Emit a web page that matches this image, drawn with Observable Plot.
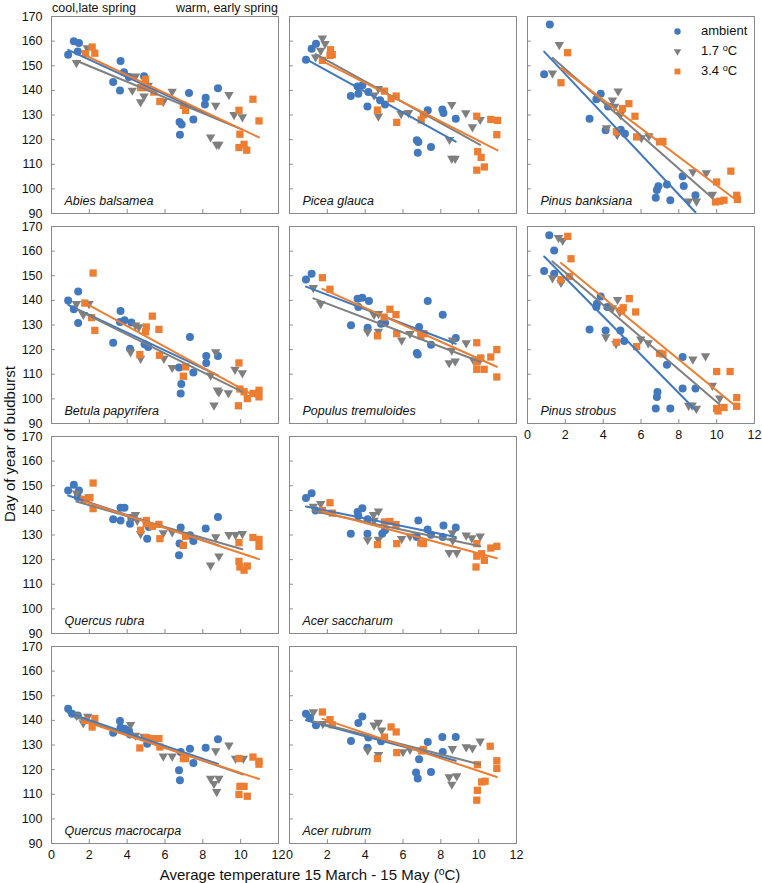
<!DOCTYPE html>
<html><head><meta charset="utf-8">
<script src="https://cdn.jsdelivr.net/npm/d3@7"></script>
<script src="https://cdn.jsdelivr.net/npm/@observablehq/plot@0.6"></script>
<style>
body{margin:0;background:#fff;font-family:"Liberation Sans",Arial,sans-serif;}
#fig{position:relative;width:762px;height:883px;overflow:hidden;}
.panel{position:absolute;}
.lbl{position:absolute;color:#111;white-space:nowrap;line-height:1;}
sup{font-size:0.7em;vertical-align:0.45em;line-height:0;}
</style></head><body><div id="fig"></div>
<script>
// ---- data ----
const treatments = ["ambient", "1.7 °C", "3.4 °C"];
const colors = ["#4178be", "#7f7f7f", "#ed7d31"];
const xTicks = [0, 2, 4, 6, 8, 10, 12];
const yTicks = [90, 100, 110, 120, 130, 140, 150, 160, 170];

const abiesAmb = [[0.88,154.5],[1.18,159.9],[1.45,159.2],[1.39,155.8],[3.65,151.9],[3.83,147.4],[3.26,143.4],[3.62,140],[4.09,145.4],[4.89,145.7],[5.06,141.6],[7.27,138.9],[6.77,127.2],[6.88,126.1],[6.79,122],[7.5,128.2],[8.15,137],[8.11,134.3],[8.8,140.9]];
const abiesT17 = [[1.32,151.2],[1.89,157.2],[4.27,140],[4.44,145.7],[4.71,135.3],[4.89,137.6],[5.11,142],[5.91,135.5],[6.38,139.6],[8.68,133.9],[8.41,121],[8.73,118],[8.85,118],[9.38,138.2],[9.65,130.1],[10.09,129.2]];
const abiesT34 = [[1.8,154.9],[2.15,157.6],[2.29,155.1],[4.97,144.5],[4.71,141.1],[5.03,141.1],[5.41,139.3],[5.73,135.5],[6.97,133.9],[7.09,131.9],[9.91,131.9],[9.96,122.2],[9.91,116.8],[10.18,118.1],[10.32,115.7],[10.65,136.4],[10.97,127.6]];

const piceaAmb = [[0.87,152.4],[1.17,156.9],[1.4,158.9],[3.24,137.7],[3.64,138.6],[3.6,141.6],[3.85,142],[4.17,139.3],[4.12,133.5],[5.05,134.3],[4.79,136],[7.31,131.9],[8.08,132.2],[8.14,130.8],[8.79,128.5],[6.73,119.7],[6.81,119],[6.78,114.7],[7.48,117]];
const piceaT17 = [[1.74,161.2],[1.88,158.9],[1.65,156.2],[1.38,153.5],[4.7,140.7],[4.47,138],[4.7,129.5],[5.9,130.5],[6.29,130.9],[8.46,120],[8.58,112.3],[8.76,112.3],[8.58,134.2],[9.32,130.8],[9.67,125.1],[10.08,128.1]];
const piceaT34 = [[1.74,152.2],[2.14,154.2],[2.26,154.5],[2.17,156.5],[5.02,139.7],[5.37,136.6],[5.64,137.7],[4.65,132],[5.67,127],[7.08,130.1],[6.96,128],[9.9,129.5],[9.95,115.1],[10.13,112.8],[9.9,107.6],[10.3,108.9],[10.64,128.2],[11,127.8],[10.96,122]];

const banksAmb = [[1.18,166.8],[0.88,146.5],[3.64,136.4],[3.87,138.6],[4.26,133.5],[3.28,128.5],[4.13,123.8],[4.93,124],[5.15,122.4],[8.2,105.1],[8.26,101.2],[7.37,101.8],[6.92,101.1],[6.84,99.5],[6.78,96.4],[7.55,95.4],[8.88,97.4]];
const banksT17 = [[1.32,147],[1.68,158.5],[4.79,139.7],[4.49,136],[4.61,133.5],[4.91,130.1],[4.18,124.7],[4.74,122],[6.02,120.7],[6.42,121.5],[8.74,106.9],[9.45,106.5],[9.77,97.7],[8.52,95],[8.93,95]];
const banksT34 = [[2.12,155.3],[1.77,143.1],[5.02,132.6],[5.36,134.6],[5.68,129.5],[4.7,123.2],[5.77,121.1],[6.98,119.1],[7.16,119.3],[10,102.8],[10.75,107.2],[9.94,94.7],[10.17,95],[10.39,95.4],[11.06,97.4],[11.1,95.7]];

const betulaAmb = [[0.88,140],[1.18,136.4],[1.41,143.6],[1.41,130.8],[3.26,122.8],[3.65,135.7],[3.62,131.2],[3.86,131.9],[4.22,131],[4.15,120.4],[4.92,122.2],[5.11,121.1],[6.74,112.7],[6.86,106],[6.83,102.2],[7.32,125.1],[7.5,110.7],[8.18,117.4],[8.18,114.6],[8.8,117.4]];
const betulaT17 = [[1.32,138.6],[1.98,138.6],[1.68,134.2],[4.18,119],[4.71,116.4],[4.44,129.9],[4.62,129.2],[5.94,116.4],[6.38,112.7],[8.41,109.6],[8.68,119],[8.77,103.5],[8.85,102.8],[8.59,97.4],[9.35,102.4],[9.7,111.9],[10.09,110.5]];
const betulaT34 = [[1.76,138.9],[2.2,151.1],[2.12,133],[2.29,127.8],[5.01,129.2],[4.97,127.2],[5.33,133.6],[5.68,128.2],[5.71,117.7],[4.67,118],[7.09,113],[6.97,109.2],[9.91,114.6],[9.96,104],[9.88,97.2],[10.18,102.9],[10.35,100.1],[10.65,102.2],[10.97,103.5],[10.97,100.8]];

const populusAmb = [[0.87,148.5],[1.17,150.8],[3.6,140.7],[3.85,141.1],[4.2,139.7],[3.64,137.3],[3.25,129.9],[4.13,128.9],[4.84,130.5],[5.05,130.9],[6.85,129.2],[7.31,139.7],[8.1,134.2],[8.79,124.7],[7.48,122],[6.73,118.6],[6.78,118]];
const populusT17 = [[1.26,145.1],[1.65,138.6],[4.47,134.2],[4.7,134.6],[4.7,127.4],[4.13,127.2],[5.93,123.8],[6.37,126.5],[8.61,123.8],[8.58,119.7],[8.44,114.6],[8.76,115.3],[9.34,122.7],[9.73,115.7],[10.08,116.1]];
const populusT34 = [[1.74,149.2],[2.14,144.5],[5,133.2],[5.31,136.4],[5.63,134.2],[4.65,125.6],[5.67,126.5],[6.94,125.6],[7.11,126.5],[9.9,122.8],[9.9,115],[10.11,116.6],[9.9,112],[10.29,112],[10.64,117],[10.96,120],[10.96,108.9]];

const strobusAmb = [[1.15,166.4],[1.41,160.3],[0.88,151.9],[1.41,150.8],[3.87,141.6],[3.67,138.6],[3.64,137.3],[4.22,137.3],[3.28,128.2],[4.13,127.8],[4.91,127.8],[5.11,123.5],[8.2,117],[7.37,113.9],[8.2,104.2],[8.88,104.2],[6.87,102.8],[6.84,100.8],[6.78,96.1],[7.55,96.1]];
const strobusT17 = [[1.64,165.4],[1.86,164.3],[1.32,149.1],[1.77,147.2],[4.76,140.3],[4.49,136.9],[4.88,135.3],[4.14,125.1],[4.68,122.4],[5.99,124.2],[6.38,122.7],[8.74,116.1],[9.41,117.4],[9.77,105.4],[10.16,100.3],[8.52,97.3],[8.7,97.4],[8.93,96.1]];
const strobusT34 = [[2.13,166],[2.3,156.9],[1.77,148.4],[2.21,149.7],[5.38,140.7],[5.06,137],[4.97,135.9],[5.72,135.3],[4.7,123],[5.77,121.2],[6.98,118.5],[7.16,118.2],[10,111.1],[10.71,111.1],[10,96.1],[10.07,95.1],[10.39,96.5],[11.06,100.5],[11.06,97]];

const rubraAmb = [[0.88,148.1],[1.18,150.4],[1.45,148.1],[1.39,145.4],[3.26,136.4],[3.65,135.9],[3.65,141.1],[3.86,141.1],[4.15,134.6],[4.22,137],[5.06,128.5],[5.15,133.2],[6.83,133],[6.77,126.5],[6.74,121.8],[7.32,129.9],[7.5,127.6],[8.15,132.6],[8.8,137.3]];
const rubraT17 = [[1.32,147],[1.98,145.4],[4.18,137.3],[4.44,138.2],[4.53,135.9],[4.71,130.5],[5.91,130.8],[6.38,131.2],[8.68,129.2],[8.41,117.7],[8.85,121.4],[9.38,130.1],[9.73,130.1],[10.09,130.5]];
const rubraT34 = [[1.71,144.5],[2.03,145.1],[2.2,151.1],[2.2,140.7],[4.71,131.9],[5.01,135.9],[5.01,134.6],[5.33,133.5],[5.68,134.3],[5.73,128.5],[6.97,125.8],[7.09,129.5],[9.91,126.9],[9.91,119.3],[9.96,117],[10.18,115.7],[10.35,117.4],[10.65,129],[10.97,128.2],[10.97,125.4]];

const saccharumAmb = [[0.87,145],[1.17,147],[1.38,140],[3.24,130.5],[3.64,137.7],[3.6,139.3],[3.85,140.9],[4.13,136.4],[4.12,130.5],[4.9,130.5],[5.05,131.9],[6.81,135.9],[6.73,129.2],[7.3,132.2],[7.48,130.1],[8.1,129.2],[8.14,133.9],[8.79,133]];
const saccharumT17 = [[1.26,141.6],[1.65,142.7],[4.44,138.2],[4.7,139.7],[4.47,135.9],[4.13,128],[4.7,128.2],[5.93,128.5],[6.37,129.5],[8.61,130.8],[8.63,127.8],[8.44,122.8],[8.84,122.8],[9.34,129.9],[9.64,128.8],[10.08,129.5]];
const saccharumT34 = [[1.74,140],[2.14,143.1],[2.26,138.9],[5.02,135.3],[5.31,135.5],[5.63,134.2],[4.65,126.1],[5.67,126.5],[6.94,126.8],[7.08,126.5],[9.9,126.5],[9.9,121.4],[10.16,122.4],[10.3,119.7],[9.86,117],[10.64,124.7],[10.96,125.4]];

const macroAmb = [[0.88,144.7],[1.09,142.7],[1.39,142],[3.26,135],[3.62,139.7],[3.65,137],[3.86,136.6],[4.09,135.9],[4.15,134.3],[5.06,130.5],[6.83,127.2],[7.32,128.5],[7.5,122.7],[6.74,119.7],[6.79,115.7],[8.15,128.9],[8.8,132.3]];
const macroT17 = [[1.32,142],[1.68,138.9],[1.92,141.6],[4.18,138.2],[4.44,133.9],[4.89,133.5],[5.91,125.4],[6.38,125.4],[8.68,127.6],[8.41,116.4],[8.59,114.3],[8.85,116.4],[8.73,111],[9.38,129.9],[9.73,124.5],[10.14,124.5]];
const macroT34 = [[1.76,140],[2.15,137.3],[2.29,140.7],[5.01,133],[5.33,132.6],[5.68,132.6],[5.73,129.2],[4.67,128.8],[6.97,124.5],[7.09,124.5],[9.91,124.5],[9.91,109.9],[9.96,113.2],[10.18,113.2],[10.35,109.2],[10.65,125.1],[10.97,123.4],[10.97,122.2]];

const rubrumAmb = [[0.87,142.7],[1.08,141.1],[1.4,138],[3.64,138.9],[3.85,141.6],[3.25,131.6],[4.17,133],[4.12,128.9],[4.84,131.5],[6.85,124.2],[7.31,131.2],[8.08,133.2],[8.79,133.2],[8.1,127.2],[7.48,119],[6.69,118.8],[6.78,116.4]];
const rubrumT17 = [[1.26,143.4],[1.76,138.6],[4.47,138],[4.7,139.1],[4.87,136],[4.13,127.8],[4.7,126.1],[6,127.2],[6.37,128.2],[8.61,128.5],[8.44,117],[8.84,117.4],[8.58,114],[9.34,129.2],[9.67,128.8],[10.08,131.5]];
const rubrumT34 = [[1.74,143.4],[2.14,140.3],[2.26,138.2],[5.02,133.2],[5.37,137.3],[5.64,135.3],[4.65,124.5],[5.67,126.9],[6.99,127.6],[7.08,128.2],[9.93,122],[9.93,111.6],[10.16,115],[10.34,115.3],[9.9,107.6],[10.61,129.5],[10.96,123.6],[10.96,120.5]];

const species = ["Abies balsamea", "Picea glauca", "Pinus banksiana", "Betula papyrifera", "Populus tremuloides", "Pinus strobus", "Quercus rubra", "Acer saccharum", "Quercus macrocarpa", "Acer rubrum"];
const seriesBySpecies = [
  [abiesAmb, abiesT17, abiesT34], [piceaAmb, piceaT17, piceaT34], [banksAmb, banksT17, banksT34],
  [betulaAmb, betulaT17, betulaT34], [populusAmb, populusT17, populusT34], [strobusAmb, strobusT17, strobusT34],
  [rubraAmb, rubraT17, rubraT34], [saccharumAmb, saccharumT17, saccharumT34],
  [macroAmb, macroT17, macroT34], [rubrumAmb, rubrumT17, rubrumT34]
];

// ---- layout ----
const colX = [51, 289, 527];
const rowY = [16, 226, 436, 646];
const grid = [[0,0],[1,0],[2,0],[0,1],[1,1],[2,1],[0,2],[1,2],[0,3],[1,3]];
const PW = 227, PH = 197, ML = 46, MR = 8, MT = 6, MB = 28;
const frameColor = "#8a8a8a";
const fig = document.getElementById("fig");

function makePanel(i) {
  const [c, r] = grid[i];
  const rows = [];
  seriesBySpecies[i].forEach((arr, k) => arr.forEach(([x, y]) => rows.push({x, y, s: treatments[k]})));
  const showY = c === 0;
  const showX = r === 3 || (c === 2 && r === 1);
  const marks = [
    Plot.frame({stroke: frameColor}),
    Plot.ruleY(yTicks, {y: d => d, x1: 0, x2: 0.2, stroke: frameColor}),
    Plot.ruleX(xTicks, {x: d => d, y1: 90, y2: 91.6, stroke: frameColor}),
    Plot.dot(rows.filter(d => d.s === treatments[0]), {x: "x", y: "y", symbol: "circle", r: 4, fill: colors[0]}),
    Plot.dot(rows.filter(d => d.s === treatments[1]), {x: "x", y: "y", symbol: "triangle", rotate: 180, r: 3.5, fill: colors[1]}),
    Plot.dot(rows.filter(d => d.s === treatments[2]), {x: "x", y: "y", symbol: "square", r: 4.1, fill: colors[2]}),
    Plot.linearRegressionY(rows, {x: "x", y: "y", stroke: "s", ci: 0, strokeWidth: 2, clip: true}),
    Plot.text([species[i]], {frameAnchor: "bottom-left", dx: 13, dy: -13, lineAnchor: "middle", fontStyle: "italic", fontSize: 12.5, fill: "#111"})
  ];
  if (showY) marks.push(Plot.axisY({ticks: yTicks, tickSize: 0, tickPadding: 9, fontSize: 12.5, tickFormat: d => d, label: null}));
  if (showX) marks.push(Plot.axisX({ticks: xTicks, tickSize: 0, tickPadding: 7, fontSize: 12.5, tickFormat: d => d, label: null}));
  if (i === 2) {
    treatments.forEach((t, k) => {
      const sym = ["circle", "triangle", "square"][k];
      marks.push(Plot.dot([t], {frameAnchor: "top-left", dx: 150, dy: 15 + 20 * k, symbol: sym, rotate: k === 1 ? 180 : 0,
        r: [3.2, 2.8, 3.3][k], fill: colors[k]}));
    });
  }
  const chart = Plot.plot({
    width: PW + ML + MR, height: PH + MT + MB,
    marginLeft: ML, marginRight: MR, marginTop: MT, marginBottom: MB,
    style: {fontFamily: "'Liberation Sans', Arial, sans-serif", fontSize: "12.5px", background: "transparent", color: "#111"},
    x: {domain: [0, 12], label: null, ...(showX ? {} : {axis: null})},
    y: {domain: [90, 170], label: null, ...(showY ? {} : {axis: null})},
    color: {domain: treatments, range: colors},
    marks
  });
  chart.classList.add("panel");
  chart.style.left = (colX[c] - ML) + "px";
  chart.style.top = (rowY[r] - MT) + "px";
  fig.appendChild(chart);
}
species.forEach((_, i) => makePanel(i));

function label(html, css) {
  const d = document.createElement("div");
  d.className = "lbl";
  d.innerHTML = html;
  Object.assign(d.style, css);
  fig.appendChild(d);
  return d;
}
label("cool,late spring", {left: "52px", top: "2px", fontSize: "12.5px"});
label("warm, early spring", {right: (762 - 278) + "px", top: "2px", fontSize: "12.5px"});
label("ambient", {left: "701px", top: "24px", fontSize: "13px"});
label("1.7 <sup>o</sup>C", {left: "701px", top: "44px", fontSize: "13px"});
label("3.4 <sup>o</sup>C", {left: "701px", top: "64px", fontSize: "13px"});
label("Average temperature 15 March - 15 May (<sup>o</sup>C)", {left: "310px", top: "867px", fontSize: "15px", transform: "translateX(-50%)"});
label("Day of year of budburst", {left: "9px", top: "444px", fontSize: "15px", transform: "translate(-50%,-50%) rotate(-90deg)"});
</script></body></html>
